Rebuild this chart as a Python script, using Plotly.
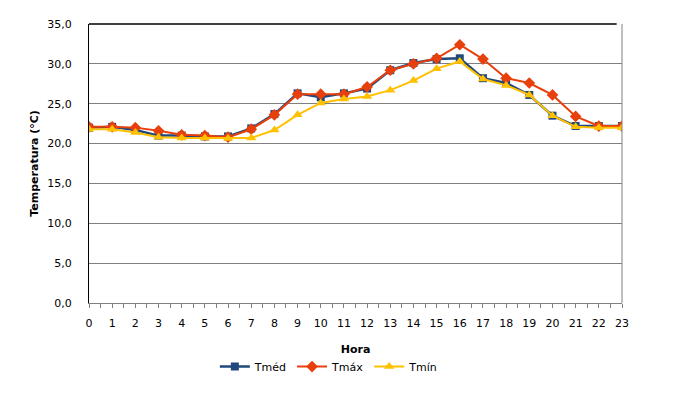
import plotly.graph_objects as go

horas = list(range(24))
tmed = [22.0, 22.1, 21.7, 21.0, 21.0, 20.9, 20.9, 21.9, 23.7, 26.3, 25.8, 26.3, 26.9,
        29.2, 30.1, 30.6, 30.7, 28.2, 27.6, 26.1, 23.5, 22.2, 22.2, 22.2]
tmax = [22.1, 22.1, 22.0, 21.6, 21.1, 21.0, 20.8, 21.8, 23.6, 26.2, 26.2, 26.2, 27.1,
        29.2, 30.0, 30.7, 32.4, 30.6, 28.2, 27.6, 26.1, 23.4, 22.2, 22.2]
tmin = [21.8, 21.8, 21.4, 20.8, 20.7, 20.7, 20.65, 20.7, 21.7, 23.6, 25.1, 25.6, 25.9,
        26.7, 27.9, 29.4, 30.3, 28.1, 27.3, 26.1, 23.5, 22.1, 22.0, 22.0]
y_ticks = [0, 5, 10, 15, 20, 25, 30, 35]

FONT = "DejaVu Sans"

fig = go.Figure()
fig.add_trace(go.Scatter(x=horas, y=tmed, name="Tméd", mode="lines+markers",
                         line=dict(color="#1F497D", width=2.5),
                         marker=dict(symbol="square", size=8, color="#1F497D")))
fig.add_trace(go.Scatter(x=horas, y=tmax, name="Tmáx", mode="lines+markers",
                         line=dict(color="#E8400C", width=2),
                         marker=dict(symbol="diamond", size=9, color="#E8400C")))
fig.add_trace(go.Scatter(x=horas, y=tmin, name="Tmín", mode="lines+markers",
                         line=dict(color="#FFC000", width=2),
                         marker=dict(symbol="triangle-up", size=9, color="#FFC000")))

fig.update_layout(
    width=670, height=399,
    margin=dict(l=81, r=56, t=10, b=104),
    paper_bgcolor="white", plot_bgcolor="white",
    font=dict(family=FONT, size=11, color="black"),
    separators=",.",
    showlegend=True,
    legend=dict(orientation="h", x=0.45, xanchor="center", y=-0.228, yanchor="middle",
                font=dict(family=FONT, size=11), itemwidth=30, tracegroupgap=0),
    xaxis=dict(range=[0, 23], tickmode="array", tickvals=horas,
               ticktext=[str(h) for h in horas],
               showgrid=False, zeroline=False,
               showline=True, linecolor="#808080", linewidth=1,
               ticks="outside", ticklen=4, tickcolor="#808080",
               minor=dict(dtick=0.5, tick0=0, ticks="outside", ticklen=4, tickcolor="#808080"),
               ticklabelstandoff=6,
               tickfont=dict(family=FONT, size=11),
               title=dict(text="<b>Hora</b>", font=dict(family=FONT, size=11), standoff=16)),
    yaxis=dict(range=[0, 35], tickmode="array", tickvals=y_ticks, tickformat=".1f",
               showgrid=True, gridcolor="#808080", gridwidth=1, zeroline=False,
               showline=True, linecolor="black", linewidth=1,
               ticks="", ticklabelstandoff=14, tickfont=dict(family=FONT, size=11),
               title=dict(text="<b>Temperatura (°C)</b>", font=dict(family=FONT, size=11),
                          standoff=6)),
    shapes=[
        dict(type="line", xref="paper", yref="paper", x0=0, x1=0.99, y0=1, y1=1,
             line=dict(color="black", width=1.5)),
        dict(type="line", xref="paper", yref="paper", x0=1, x1=1, y0=0, y1=1,
             line=dict(color="#808080", width=1)),
    ],
)

fig.write_html("out.html")
